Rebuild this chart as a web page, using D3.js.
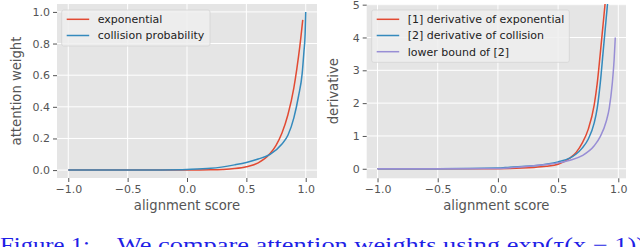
<!DOCTYPE html>
<html>
<head>
<meta charset="utf-8">
<script src="https://cdn.jsdelivr.net/npm/d3@7"></script>
<style>
  body { margin: 0; background: #fff; }
  svg { display: block; }
</style>
</head>
<body>
<svg id="fig" width="640" height="247"></svg>
<script>
// values
const xTicks = [-1.0, -0.5, 0.0, 0.5, 1.0];
const leftYTicks = [0.0, 0.2, 0.4, 0.6, 0.8, 1.0];
const rightYTicks = [0, 1, 2, 3, 4, 5];

// left panel: attention weight
const expX = [-1.0, -0.5, 0.0, 0.2, 0.3, 0.4, 0.5, 0.6, 0.7, 0.75, 0.8, 0.85, 0.9, 0.925, 0.95, 0.975];
const expY = [0.0, 0.0, 0.0004, 0.0019, 0.0042, 0.0094, 0.021, 0.046, 0.105, 0.157, 0.235, 0.35, 0.52, 0.64, 0.78, 0.95];

const colX = [-1.0, -0.5, -0.25, 0.0, 0.2, 0.4, 0.5, 0.6, 0.7, 0.8, 0.85, 0.9, 0.94, 0.97, 0.985, 0.995, 1.0];
const colY = [0.0, 0.0001, 0.001, 0.004, 0.011, 0.033, 0.048, 0.07, 0.10, 0.165, 0.22, 0.33, 0.47, 0.61, 0.75, 0.86, 1.0];

// right panel: derivative
const dExpX = [-1.0, -0.5, 0.0, 0.1, 0.2, 0.3, 0.4, 0.5, 0.6, 0.65, 0.7, 0.75, 0.8, 0.825, 0.85, 0.875, 0.9];
const dExpY = [0.0, 0.0, 0.003, 0.008, 0.02, 0.04, 0.075, 0.14, 0.33, 0.5, 0.78, 1.2, 1.95, 2.6, 3.5, 4.45, 5.4];

const dColX = [-1.0, -0.5, 0.0, 0.1, 0.2, 0.3, 0.4, 0.5, 0.6, 0.65, 0.7, 0.75, 0.8, 0.825, 0.85, 0.875, 0.9, 0.91, 0.925];
const dColY = [0.0, 0.002, 0.02, 0.05, 0.07, 0.09, 0.14, 0.21, 0.33, 0.45, 0.63, 0.9, 1.4, 1.85, 2.6, 3.6, 4.6, 5.0, 5.6];

const lowX = [-1.0, -0.5, 0.0, 0.2, 0.4, 0.5, 0.6, 0.7, 0.8, 0.85, 0.9, 0.925, 0.95, 0.965, 0.975];
const lowY = [0.0, 0.002, 0.01, 0.06, 0.13, 0.18, 0.26, 0.4, 0.7, 0.98, 1.45, 1.85, 2.6, 3.3, 4.0];

const red = "#E24A33", blue = "#348ABD", purple = "#988ED5";
const sans = "DejaVu Sans, sans-serif";

const svg = d3.select("#fig");

function panel(opts) {
    const x = d3.scaleLinear().domain(opts.xDomain).range([opts.left, opts.right]);
    const y = d3.scaleLinear().domain(opts.yDomain).range([opts.bottom, opts.top]);
    const g = svg.append("g").style("font-family", sans);

    g.append("rect")
        .attr("x", opts.left).attr("y", opts.top)
        .attr("width", opts.right - opts.left)
        .attr("height", opts.bottom - opts.top)
        .attr("fill", "#E5E5E5");

    // grid
    g.append("g").selectAll("line").data(xTicks).join("line")
        .attr("x1", d => x(d)).attr("x2", d => x(d))
        .attr("y1", opts.top).attr("y2", opts.bottom)
        .attr("stroke", "#fff").attr("stroke-width", 1);
    g.append("g").selectAll("line").data(opts.yTicks).join("line")
        .attr("x1", opts.left).attr("x2", opts.right)
        .attr("y1", d => y(d)).attr("y2", d => y(d))
        .attr("stroke", "#fff").attr("stroke-width", 1);

    // axes
    const xAxis = g.append("g")
        .attr("transform", `translate(0,${opts.bottom})`)
        .call(d3.axisBottom(x).tickValues(xTicks).tickFormat(d3.format(".1f")).tickSize(4).tickPadding(3));
    const yAxis = g.append("g")
        .attr("transform", `translate(${opts.left},0)`)
        .call(d3.axisLeft(y).tickValues(opts.yTicks).tickFormat(opts.yFormat).tickSize(4).tickPadding(3));
    [xAxis, yAxis].forEach(a => {
        a.attr("font-family", null).attr("font-size", null);
        a.select(".domain").remove();
        a.selectAll("line").attr("stroke", "#555");
        a.selectAll("text").attr("fill", "#555").style("font-size", "11px");
    });

    g.append("text")
        .attr("x", (opts.left + opts.right) / 2).attr("y", 210)
        .attr("text-anchor", "middle").style("font-size", "13.2px").attr("fill", "#555")
        .text("alignment score");
    g.append("text")
        .attr("transform", `translate(${opts.yLabelX},${(opts.top + opts.bottom) / 2}) rotate(-90)`)
        .attr("text-anchor", "middle").style("font-size", "13.2px").attr("fill", "#555")
        .text(opts.yLabel);

    // curves
    const clipId = "clip" + opts.id;
    svg.append("clipPath").attr("id", clipId).append("rect")
        .attr("x", opts.left).attr("y", opts.top)
        .attr("width", opts.right - opts.left).attr("height", opts.bottom - opts.top);
    const line = d3.line().x(d => x(d[0])).y(d => y(d[1])).curve(d3.curveMonotoneX);
    const lines = g.append("g").attr("clip-path", `url(#${clipId})`);
    opts.series.forEach(s => {
        lines.append("path")
            .datum(d3.zip(s.xs, s.ys))
            .attr("d", line)
            .attr("fill", "none")
            .attr("stroke", s.color)
            .attr("stroke-width", 1.5);
    });

    // legend
    const lg = g.append("g");
    lg.append("rect")
        .attr("x", opts.legend.x).attr("y", opts.legend.y)
        .attr("width", opts.legend.w).attr("height", opts.legend.h)
        .attr("rx", 2)
        .attr("fill", "#EFEFEF").attr("fill-opacity", 0.85)
        .attr("stroke", "#D4D4D4").attr("stroke-width", 0.8);
    opts.series.forEach((s, i) => {
        const ly = opts.legend.y + 9.3 + i * 16.2;
        lg.append("line")
            .attr("x1", opts.legend.x + 5).attr("x2", opts.legend.x + 27.5)
            .attr("y1", ly).attr("y2", ly)
            .attr("stroke", s.color).attr("stroke-width", 1.5);
        lg.append("text")
            .attr("x", opts.legend.x + 36).attr("y", ly)
            .attr("dy", "0.35em").style("font-size", "11px").attr("fill", "#222")
            .text(s.name);
    });
}

panel({
    id: "L", left: 57, right: 317, top: 4, bottom: 178,
    xDomain: [-1.095, 1.095], yDomain: [-0.05, 1.05],
    yTicks: leftYTicks, yFormat: d3.format(".1f"),
    yLabel: "attention weight", yLabelX: 21,
    legend: { x: 61.7, y: 10, w: 148.3, h: 36 },
    series: [
        { name: "exponential", xs: expX, ys: expY, color: red },
        { name: "collision probability", xs: colX, ys: colY, color: blue }
    ]
});

panel({
    id: "R", left: 366.7, right: 626, top: 4, bottom: 178.3,
    xDomain: [-1.09, 1.064], yDomain: [-0.29, 5.02],
    yTicks: rightYTicks, yFormat: d3.format("d"),
    yLabel: "derivative", yLabelX: 338,
    legend: { x: 371.7, y: 10, w: 197.6, h: 52.3 },
    series: [
        { name: "[1] derivative of exponential", xs: dExpX, ys: dExpY, color: red },
        { name: "[2] derivative of collision", xs: dColX, ys: dColY, color: blue },
        { name: "lower bound of [2]", xs: lowX, ys: lowY, color: purple }
    ]
});

// caption, cut off by the bottom edge as in the original
const cap = svg.append("g")
    .style("font-family", "Liberation Serif, DejaVu Serif, serif")
    .style("font-size", "21px")
    .attr("fill", "#1f1fe6");
cap.append("text")
    .attr("x", 0).attr("y", 252)
    .attr("textLength", 90).attr("lengthAdjust", "spacingAndGlyphs")
    .text("Figure 1:");
cap.append("text")
    .attr("x", 117).attr("y", 252)
    .attr("textLength", 528).attr("lengthAdjust", "spacingAndGlyphs")
    .text("We compare attention weights using exp(τ(x − 1))");
</script>
</body>
</html>
